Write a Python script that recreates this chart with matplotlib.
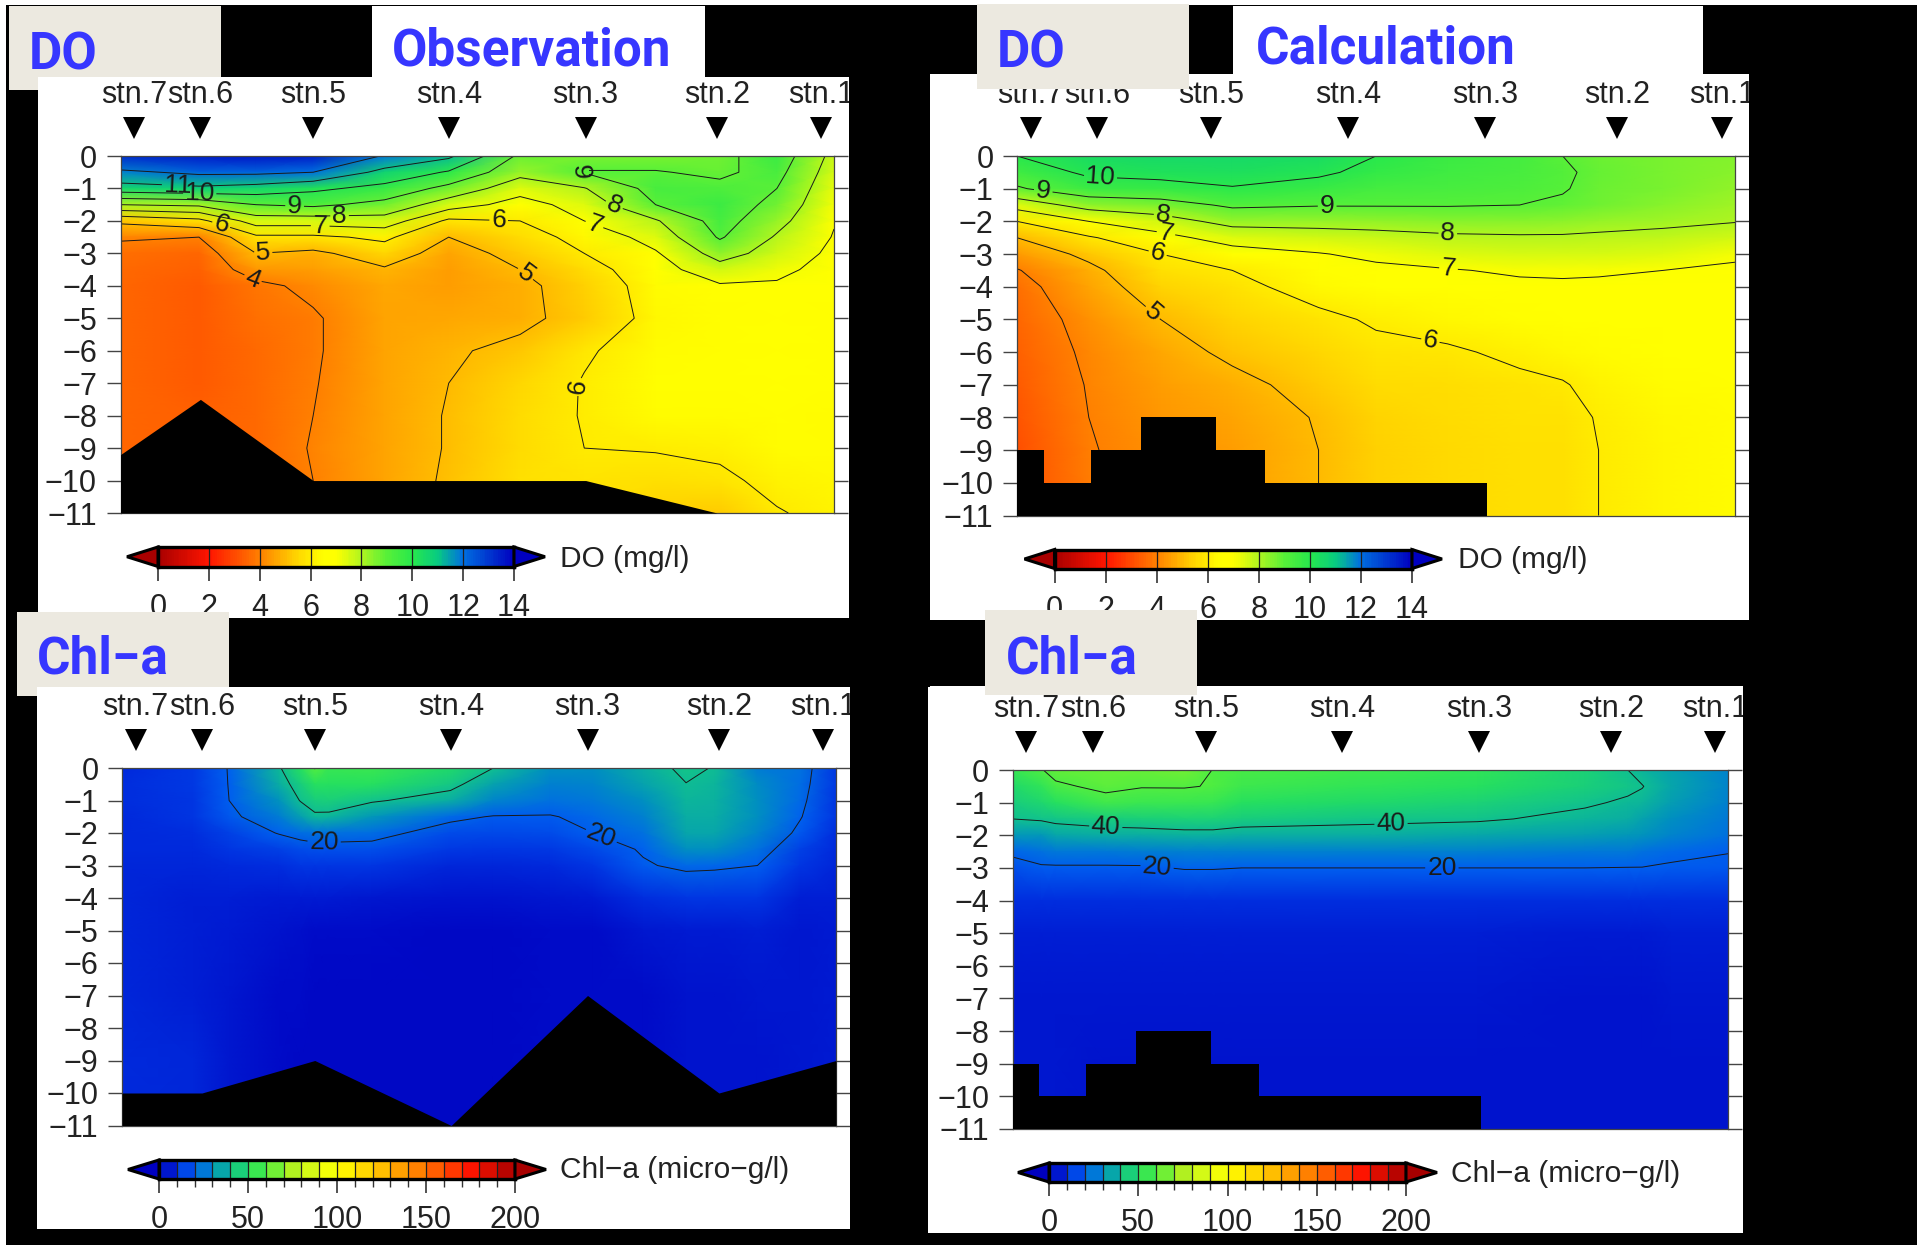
import matplotlib
matplotlib.use("Agg")
import matplotlib.pyplot as plt
import numpy as np
from matplotlib.colors import LinearSegmentedColormap
from matplotlib.patches import Rectangle

W, H = 1917, 1245
BLUE = "#3636ff"
BEIGE = "#ece9e0"
INK = "#222222"

plt.rcParams.update({
    "font.family": ["Liberation Sans", "DejaVu Sans"],
    "text.color": INK,
})

STATIONS = ["stn.7", "stn.6", "stn.5", "stn.4", "stn.3", "stn.2", "stn.1"]
STN_X = [1.9, 11.2, 27.0, 46.1, 65.2, 83.6, 98.2]
DEPTH_TICKS = [0, -1, -2, -3, -4, -5, -6, -7, -8, -9, -10, -11]

# --- DO, one inner list per column ---
DO_Z = [0, -0.5, -1, -1.5, -2, -2.5, -3, -3.5, -4, -5, -6, -7, -8, -9, -10, -11]

DO_OBS_X = [0, 11, 19, 27, 37, 46, 56, 65, 75, 84, 92, 100]
DO_OBS = [
    [13.2, 11.8, 10.6, 8.0, 5.2, 4.1, 3.7, 3.6, 3.5, 3.5, 3.5, 3.5, 3.5, 3.5, 3.5, 3.5],
    [13.5, 12.2, 10.8, 8.2, 5.7, 4.0, 3.5, 3.4, 3.3, 3.3, 3.3, 3.3, 3.4, 3.4, 3.4, 3.4],
    [13.6, 12.2, 10.6, 9.0, 7.5, 5.8, 5.0, 4.4, 3.8, 3.7, 3.6, 3.6, 3.6, 3.6, 3.6, 3.6],
    [13.5, 12.0, 10.2, 9.2, 7.5, 5.8, 4.8, 4.5, 4.2, 3.9, 3.9, 3.95, 4.0, 4.05, 4.0, 4.0],
    [11.9, 10.7, 9.7, 8.7, 7.6, 6.2, 5.5, 4.9, 4.7, 4.6, 4.6, 4.6, 4.6, 4.6, 4.6, 4.6],
    [11.2, 9.9, 8.7, 7.5, 5.8, 5.0, 4.6, 4.5, 4.5, 4.7, 4.9, 5.0, 5.05, 5.05, 5.1, 5.1],
    [8.8, 8.3, 7.4, 6.6, 6.0, 5.6, 5.3, 5.0, 4.8, 4.8, 5.2, 5.5, 5.6, 5.6, 5.7, 5.7],
    [8.6, 9.05, 7.95, 7.4, 7.0, 6.3, 6.0, 5.6, 5.4, 5.3, 5.9, 6.05, 6.05, 6.0, 5.8, 5.8],
    [8.6, 9.05, 9.35, 9.0, 7.9, 7.4, 6.9, 6.6, 6.4, 6.3, 6.4, 6.5, 6.4, 6.05, 5.7, 5.4],
    [8.7, 8.85, 9.2, 9.6, 9.4, 9.1, 8.4, 7.6, 6.9, 6.5, 6.5, 6.5, 6.4, 6.15, 5.85, 5.3],
    [9.6, 9.3, 9.0, 8.7, 8.3, 7.9, 7.6, 7.2, 6.9, 6.6, 6.6, 6.6, 6.5, 6.4, 6.2, 5.95],
    [7.7, 7.5, 7.3, 7.15, 7.05, 6.95, 6.8, 6.7, 6.6, 6.5, 6.5, 6.5, 6.45, 6.4, 6.3, 6.2],
]
DO_OBS_BED_X = [0, 11.2, 27, 65.2, 83.6, 100]
DO_OBS_BED = [-9.2, -7.5, -10, -10, -11, -11]
DO_OBS_LABELS = [(8, -0.83), (11.1, -1.2), (24.4, -1.57), (30.7, -1.84), (28, -2.07),
                 (14, -2.2), (20, -3.05), (18.3, -3.9), (56.7, -3.65), (53, -2),
                 (66.4, -2.13), (69.2, -1.5), (62.8, -0.46), (63.3, -7.1)]

DO_CALC_X = [0, 10, 20, 30, 42, 50, 60, 70, 76, 81, 90, 100]
DO_CALC = [
    [10.0, 9.5, 8.9, 7.4, 6.0, 5.0, 4.45, 3.95, 3.7, 3.5, 3.4, 3.3, 3.2, 3.1, 3.1, 3.1],
    [10.4, 10.15, 9.6, 8.4, 7.0, 5.9, 5.2, 4.8, 4.6, 4.3, 4.15, 4.05, 4.0, 3.95, 3.9, 3.9],
    [10.5, 10.25, 9.7, 8.6, 7.6, 6.7, 6.0, 5.7, 5.45, 5.0, 4.7, 4.5, 4.4, 4.3, 4.3, 4.3],
    [10.5, 10.3, 9.95, 9.15, 8.3, 7.4, 6.6, 6.0, 5.75, 5.45, 5.15, 4.8, 4.6, 4.5, 4.5, 4.5],
    [10.4, 10.15, 9.65, 9.05, 8.3, 7.6, 6.95, 6.5, 6.35, 5.8, 5.5, 5.25, 5.05, 5.0, 5.0, 5.0],
    [10.0, 9.75, 9.4, 9.05, 8.35, 7.7, 7.2, 6.8, 6.55, 6.1, 5.8, 5.6, 5.45, 5.4, 5.4, 5.4],
    [9.6, 9.5, 9.35, 9.05, 8.45, 7.85, 7.4, 6.95, 6.7, 6.3, 5.9, 5.65, 5.6, 5.55, 5.55, 5.55],
    [9.4, 9.3, 9.2, 9.0, 8.45, 7.9, 7.5, 7.1, 6.85, 6.5, 6.15, 5.85, 5.75, 5.7, 5.7, 5.7],
    [9.0, 9.1, 9.05, 8.9, 8.4, 7.9, 7.5, 7.1, 6.9, 6.6, 6.3, 5.95, 5.75, 5.7, 5.7, 5.7],
    [8.8, 8.85, 8.8, 8.7, 8.3, 7.85, 7.5, 7.1, 6.85, 6.6, 6.4, 6.2, 6.05, 6.0, 6.0, 6.0],
    [8.6, 8.6, 8.6, 8.45, 8.15, 7.8, 7.4, 7.0, 6.9, 6.7, 6.55, 6.4, 6.3, 6.25, 6.25, 6.25],
    [8.5, 8.45, 8.35, 8.2, 8.03, 7.6, 7.15, 6.85, 6.75, 6.65, 6.55, 6.5, 6.45, 6.4, 6.4, 6.4],
]
DO_CALC_LABELS = [(3.7, -1.0), (11.6, -0.76), (20.3, -1.87), (20.8, -2.3), (19.6, -2.97),
                  (18.8, -4.82), (43.2, -1.56), (60, -2.38), (60.1, -3.44), (57.6, -5.62)]

# --- Chl-a ---
CHL_Z = [0, -0.5, -1, -1.5, -2, -2.5, -3, -4, -5, -7, -9, -11]

CHL_OBS_X = [0, 10, 15, 22, 25, 27, 29, 35, 46, 52, 60, 66, 73, 79, 83, 89, 95, 100]
CHL_OBS = [
    [9, 9.5, 9.5, 9, 9, 9, 8, 8, 8, 8, 9, 9],
    [12, 12, 11, 11, 10, 9, 8, 7, 7, 7, 8, 8],
    [20.5, 20.3, 20, 18, 14, 11, 9, 7, 6, 5, 5, 5],
    [39, 36, 31, 26, 20.5, 14, 10, 6, 4, 3, 3, 3],
    [50, 44, 40.5, 33, 23, 16, 11, 6, 3.5, 2.5, 2, 2],
    [60.5, 50, 44, 38.5, 24, 17, 11, 6, 3, 2, 2, 2],
    [54, 50, 45, 38, 24, 17, 11, 6, 3, 2, 2, 2],
    [55, 50, 41, 32, 23, 17, 11, 5, 3, 2, 2, 2],
    [48, 42.5, 36, 22, 16, 12, 8, 4, 2, 2, 2, 2],
    [40, 34, 28, 19.5, 15, 11, 8, 4, 2, 2, 2, 2],
    [30, 27, 24, 19.5, 16, 12, 9, 5, 3, 3, 3, 3],
    [30, 28, 25, 22, 20, 15, 11, 6, 3, 3, 3, 3],
    [36, 34, 30, 27, 24, 21, 19, 10, 5, 3, 3, 3],
    [42, 39.8, 38, 36, 35, 30, 22, 11, 6, 4, 4, 4],
    [39.5, 38, 37, 36, 35, 30, 21.5, 11, 6, 4, 4, 4],
    [26, 29, 30, 30, 28, 24, 20, 11, 7, 5, 4, 4],
    [24, 23, 22, 20.5, 18, 14, 11, 7, 5, 5, 5, 5],
    [12, 12, 11, 11, 10, 9, 8, 7, 6, 6, 6, 6],
]
CHL_OBS_BED_X = [0, 11.2, 27, 46.1, 65.2, 83.6, 100]
CHL_OBS_BED = [-10, -10, -9, -11, -7, -10, -9]
CHL_OBS_LABELS = [(28.3, -2.08), (67.2, -2.05)]

CHL_CALC_X = [0, 4, 6, 13, 18, 24, 28, 32, 50, 65, 80, 86, 88, 92, 100]
CHL_CALC = [
    [54, 48, 44, 40, 32, 21.5, 17, 10, 7, 5, 5, 5],
    [59.5, 53, 47, 41, 32, 24, 19, 10, 7, 5, 5, 5],
    [63, 58.5, 50, 42, 35, 25, 19, 10, 7, 5, 5, 5],
    [64, 62, 57, 44, 36, 25, 19, 10, 7, 5, 4, 4],
    [64, 60.5, 55, 45, 36, 26, 19, 10, 7, 5, 4, 4],
    [65, 60.6, 55, 46, 37, 27, 20.5, 10, 7, 5, 4, 4],
    [59.8, 59.5, 54, 46, 37, 27, 20.5, 10, 7, 5, 4, 4],
    [58, 56, 50, 44, 36, 27, 20, 10, 7, 5, 4, 4],
    [56, 53, 48, 42, 36, 27, 20, 10, 7, 5, 4, 4],
    [53, 50, 46, 41, 35, 27, 20, 10, 7, 5, 4, 4],
    [46, 45, 41, 38, 33, 25, 20, 10, 6, 4, 4, 4],
    [40, 41.5, 39, 36, 32, 25, 19.8, 10, 6, 4, 4, 4],
    [37.5, 40.3, 38, 34, 31, 24, 19.8, 10, 6, 4, 4, 4],
    [34, 35, 33, 30, 28, 22, 19, 10, 7, 5, 4, 4],
    [28, 28, 27, 25, 24, 20.3, 18, 10, 7, 5, 4, 4],
]
CHL_CALC_LABELS = [(13, -1.83), (52.9, -1.73), (20.1, -3.19), (60, -3.27)]

# same staircase bed in both calculated panels
CALC_BED_X = [0, 3.7, 10.3, 17.3, 27.7, 34.5, 65.5]
CALC_BED = [-9, -10, -9, -8, -9, -10, -11]

# --- colour scales ---
DO_TICKS = [0, 2, 4, 6, 8, 10, 12, 14]
CHL_TICKS = [0, 50, 100, 150, 200]
do_cmap = LinearSegmentedColormap.from_list("do", [
    (0 / 14, "#a80000"), (2 / 14, "#ff1500"), (4 / 14, "#ff8000"), (5.5 / 14, "#ffd800"),
    (6.5 / 14, "#ffff00"), (7 / 14, "#ffff00"), (8 / 14, "#b0f520"), (9 / 14, "#58f038"),
    (10 / 14, "#28e84c"), (11 / 14, "#08cc80"), (12 / 14, "#0070e0"), (14 / 14, "#0000c0"),
])
chl_cmap = LinearSegmentedColormap.from_list("chl", [
    (0 / 200, "#0000c0"), (10 / 200, "#0030e0"), (20 / 200, "#0060f0"), (30 / 200, "#0090c0"),
    (40 / 200, "#10c090"), (50 / 200, "#25e060"), (60 / 200, "#50ee40"), (75 / 200, "#b0f020"),
    (90 / 200, "#e8ff10"), (100 / 200, "#ffff00"), (125 / 200, "#ffc000"), (150 / 200, "#ff7000"),
    (175 / 200, "#ff1500"), (200 / 200, "#a80000"),
])

fig = plt.figure(figsize=(W / 100, H / 100), dpi=100, facecolor="white")


def px_axes(x0, y0, x1, y1, **kw):
    return fig.add_axes([x0 / W, 1 - y1 / H, (x1 - x0) / W, (y1 - y0) / H], **kw)


def canvas(zorder):
    a = px_axes(0, 0, W, H, zorder=zorder)
    a.set_xlim(0, W)
    a.set_ylim(H, 0)
    a.axis("off")
    return a


def box(a, x0, y0, x1, y1, color):
    a.add_patch(Rectangle((x0, y0), x1 - x0, y1 - y0, facecolor=color, edgecolor="none"))


under = canvas(0)
over = canvas(5)

box(under, 6, 5, W, H, "black")
for r in [(38, 77, 849, 617.5), (372, 5.5, 705, 77),
          (930, 73.5, 1749, 619.5), (1233, 5.5, 1703, 73.5),
          (37, 687, 850, 1229), (928, 686, 1743, 1233)]:
    box(under, *r, "white")

# black bands cut off the overflowing labels
for r in [(849, 77, 930, 620), (1749, 73, W, 620), (850, 686, 928, 1233), (1743, 686, W, 1233),
          (6, 617.5, 930, 687), (930, 619.5, W, 686), (6, 1229, 928, H), (928, 1233, W, H)]:
    box(over, *r, "black")
# left-hand beige tabs sit behind the white panels, right-hand ones in front
for r in [(9, 5.5, 221, 77), (9, 77, 38, 90), (977, 4, 1189, 89),
          (17, 611.5, 229, 687), (17, 687, 37, 696), (985, 610, 1197, 695)]:
    box(over, *r, BEIGE)

TITLE_FONT = dict(family=["Roboto", "DejaVu Sans"], fontweight="bold",
                  color=BLUE, fontsize=37, va="center", ha="left")
over.text(29, 55, "DO", **TITLE_FONT)
over.text(392, 51, "Observation", **TITLE_FONT)
over.text(997, 54, "DO", **TITLE_FONT)
over.text(1256, 50, "Calculation", **TITLE_FONT)
over.text(37, 660, "Chl−a", **TITLE_FONT)
over.text(1006, 659, "Chl−a", **TITLE_FONT)


def section(rect, xs, values, zs, cmap, vmax, levels, label_at, bed_x, bed, step=None):
    ax = px_axes(*rect, zorder=1)
    z = np.array(values, dtype=float).T
    ax.pcolormesh(xs, zs, z, cmap=cmap, vmin=0, vmax=vmax, shading="gouraud")
    cs = ax.contour(xs, zs, z, levels=levels, colors="#1a1a1a", linewidths=0.7)
    ax.clabel(cs, fmt="%d", fontsize=19, manual=label_at, inline_spacing=2)
    ax.fill_between(bed_x, bed, -11, color="black", lw=0, step=step, zorder=4)
    ax.set_xlim(0, 100)
    ax.set_ylim(-11, 0)
    ax.set_xticks([])
    ax.set_yticks(DEPTH_TICKS)
    ax.tick_params(axis="y", left=True, right=True, length=10, width=1, color="#444444",
                   labelsize=22, labelcolor=INK, pad=7)
    for sp in ax.spines.values():
        sp.set_linewidth(0.9)
        sp.set_color("#444444")
    scale = 11 / (rect[3] - rect[1])
    ax.plot(STN_X, [28 * scale] * 7, "v", color="black", ms=16, mew=0, clip_on=False)
    for name, x in zip(STATIONS, STN_X):
        ax.text(x, 61 * scale, name, fontsize=22, ha="center", va="center", clip_on=False)
    return ax


def colorbar(rect, x_arrow, cmap, vmax, ticks, step, binned, label, label_xy):
    cb = px_axes(*rect, zorder=1)
    edges = np.arange(0, vmax + step / 2, step)
    cells = edges if binned else np.linspace(0, vmax, 200)
    cb.pcolormesh(cells, [0, 1], ((cells[:-1] + cells[1:]) / 2)[None, :],
                  cmap=cmap, vmin=0, vmax=vmax)
    cb.vlines(edges, 0, 1, color="#222222", lw=0.9)
    cb.set_xlim(0, vmax)
    cb.set_ylim(0, 1)
    cb.set_yticks([])
    cb.set_xticks(ticks)
    cb.tick_params(axis="x", length=10, width=1.2, color="#333333", labelsize=22,
                   labelcolor=INK, pad=9)
    if binned:
        cb.set_xticks(edges, minor=True)
        cb.tick_params(axis="x", which="minor", length=6, width=1, color="#333333")
    for sp in cb.spines.values():
        sp.set_linewidth(2.4)
    a = vmax * x_arrow / (rect[2] - rect[0])
    cb.fill([0, -a, 0], [0, 0.5, 1], facecolor=cmap(0.0),
            edgecolor="black", lw=2.2, clip_on=False, zorder=3)
    cb.fill([vmax, vmax + a, vmax], [0, 0.5, 1], facecolor=cmap(1.0),
            edgecolor="black", lw=2.2, clip_on=False, zorder=3)
    under.text(label_xy[0], label_xy[1], label, fontsize=21.5, ha="left", va="center")


section((120.5, 156, 834, 513), DO_OBS_X, DO_OBS, DO_Z, do_cmap, 14, list(range(4, 13)),
        DO_OBS_LABELS, DO_OBS_BED_X, DO_OBS_BED)
section((1017, 156, 1735, 515.5), DO_CALC_X, DO_CALC, DO_Z, do_cmap, 14, list(range(4, 11)),
        DO_CALC_LABELS, CALC_BED_X, CALC_BED, step="post")
section((122, 768, 836, 1125.5), CHL_OBS_X, CHL_OBS, CHL_Z, chl_cmap, 200, [20, 40, 60],
        CHL_OBS_LABELS, CHL_OBS_BED_X, CHL_OBS_BED)
section((1012.7, 770, 1728, 1129), CHL_CALC_X, CHL_CALC, CHL_Z, chl_cmap, 200, [20, 40, 60],
        CHL_CALC_LABELS, CALC_BED_X, CALC_BED, step="post")

colorbar((158, 547, 514, 566.5), 31, do_cmap, 14, DO_TICKS, 2, False, "DO (mg/l)", (560, 559))
colorbar((1054.5, 549.5, 1412, 568.5), 30, do_cmap, 14, DO_TICKS, 2, False, "DO (mg/l)", (1458, 560))
colorbar((159, 1160, 515, 1179), 31, chl_cmap, 200, CHL_TICKS, 10, True,
         "Chl−a (micro−g/l)", (560, 1170))
colorbar((1049, 1163, 1406, 1182), 31, chl_cmap, 200, CHL_TICKS, 10, True,
         "Chl−a (micro−g/l)", (1451, 1174))

fig.savefig("out.png", dpi=100, facecolor="white")
